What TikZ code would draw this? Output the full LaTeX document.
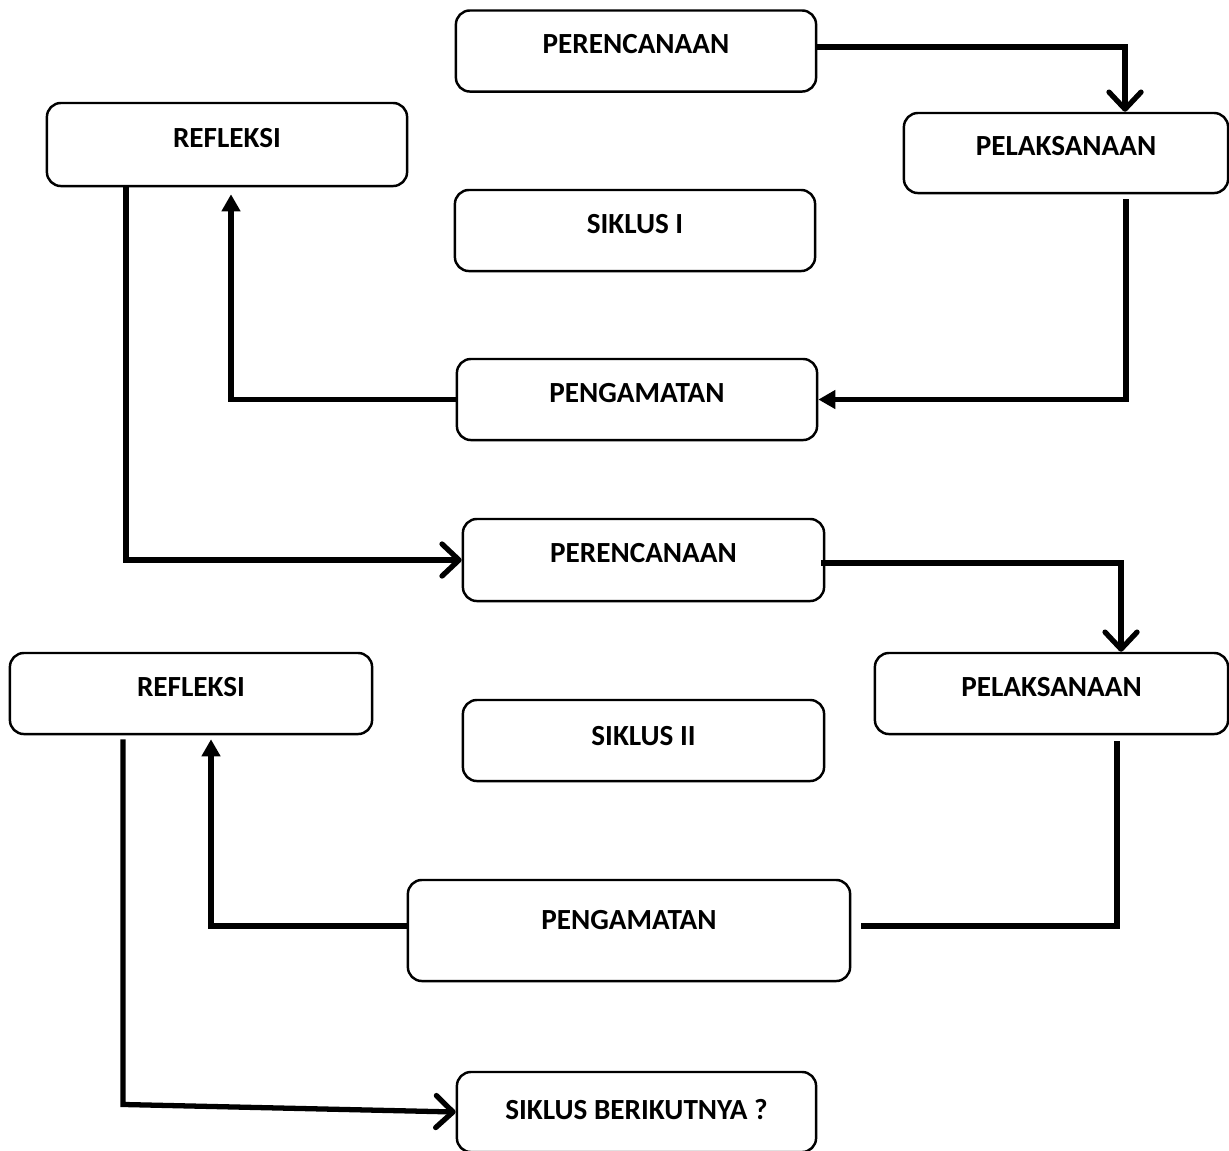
\documentclass[tikz,border=0pt]{standalone}
\usepackage{fontspec}
\setmainfont{Carlito}
\usetikzlibrary{arrows.meta}

\begin{document}
\begin{tikzpicture}
  [x=0.01cm,y=-0.01cm,
   box/.style={draw,line width=0.7pt,rounded corners=0.14cm,minimum width=3.6cm,minimum height=0.81cm,
     font=\fontsize{8.3}{10}\selectfont\bfseries,text height=6pt,text depth=4.5pt,inner sep=0pt},
   link/.style={line width=1.5pt},
   vtip/.style={-{Straight Barb[length=0.17cm,width=0.32cm,round]}},
   ftip/.style={-{Triangle[length=0.17cm,width=0.18cm]}}]
  \useasboundingbox (0,0) rectangle (1229,1150);

  % siklus I
  \node[box] (per1) at (636,51) {PERENCANAAN};
  \node[box,minimum height=0.83cm] (ref1) at (227,144.5) {REFLEKSI};
  \node[box,minimum width=3.24cm,minimum height=0.8cm] (pel1) at (1066,153) {PELAKSANAAN};
  \node[box] (sik1) at (635,230.5) {SIKLUS I};
  \node[box] (pen1) at (637,399.5) {PENGAMATAN};

  % siklus II
  \node[box,minimum width=3.61cm,minimum height=0.82cm] (per2) at (643.5,560) {PERENCANAAN};
  \node[box,minimum width=3.62cm] (ref2) at (191,693.5) {REFLEKSI};
  \node[box,minimum width=3.53cm] (pel2) at (1051.5,693.5) {PELAKSANAAN};
  \node[box,minimum width=3.61cm,text depth=3.3pt] (sik2) at (643.5,740.5) {SIKLUS II};
  \node[box,minimum width=4.42cm,minimum height=1.01cm,text depth=6.7pt] (pen2) at (629,930.5) {PENGAMATAN};
  \node[box,minimum width=3.59cm,minimum height=0.8cm,text depth=1.8pt] (next) at (636.5,1112) {SIKLUS BERIKUTNYA ?};

  \draw[link,vtip] ([yshift=0.04cm]per1.east) -| ([xshift=0.59cm]pel1.north);
  \draw[link,ftip] ([xshift=0.6cm,yshift=-0.05cm]pel1.south) |- (pen1.east);
  \draw[link,ftip] (pen1.west) -| ([xshift=0.04cm,yshift=-0.07cm]ref1.south);
  \draw[link,vtip] ([xshift=-1.01cm]ref1.south) |- (per2.west);

  \draw[link,vtip] ([xshift=-0.04cm,yshift=-0.03cm]per2.east) -| ([xshift=0.695cm]pel2.north);
  \draw[link] ([xshift=0.655cm,yshift=-0.06cm]pel2.south) |- ([xshift=0.1cm,yshift=0.045cm]pen2.east);
  \draw[link,ftip] ([yshift=0.045cm]pen2.west) -| ([xshift=0.2cm,yshift=-0.04cm]ref2.south);
  \draw[link,vtip] ([xshift=-0.68cm,yshift=-0.04cm]ref2.south) -- ++(0,-3.65cm) -- (next.west);

\end{tikzpicture}
\end{document}
